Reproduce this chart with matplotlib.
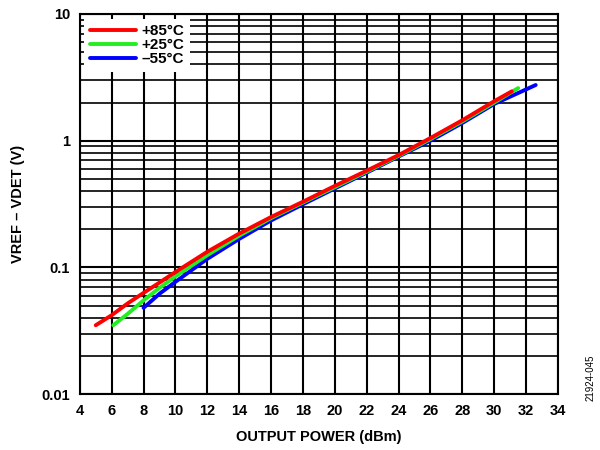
import matplotlib
matplotlib.use('Agg')
import matplotlib.pyplot as plt
from matplotlib.ticker import FixedLocator, LogLocator, NullFormatter

plt.rcParams['font.family'] = ['Liberation Sans', 'DejaVu Sans']
plt.rcParams['font.weight'] = 'bold'

# +85 C
x_85 = [5, 6, 7, 8, 9, 10, 12, 14, 16, 18, 20, 22, 24, 26, 28, 30, 31.1]
y_85 = [0.035, 0.042, 0.052, 0.063, 0.076, 0.092, 0.133, 0.185, 0.25, 0.33,
        0.44, 0.58, 0.77, 1.05, 1.45, 2.05, 2.45]
# +25 C
x_25 = [6.1, 7, 8, 9, 10, 12, 14, 16, 18, 20, 22, 24, 26, 28, 30, 31.5]
y_25 = [0.035, 0.043, 0.055, 0.069, 0.085, 0.125, 0.178, 0.245, 0.325,
        0.43, 0.57, 0.76, 1.03, 1.42, 2.0, 2.6]
# -55 C
x_m55 = [8, 9, 10, 12, 14, 16, 18, 20, 22, 24, 26, 28, 30, 32.6]
y_m55 = [0.048, 0.062, 0.077, 0.117, 0.168, 0.235, 0.315, 0.42, 0.56,
         0.75, 1.0, 1.38, 1.95, 2.75]

x_ticks = list(range(4, 35, 2))
y_ticks = [0.01, 0.1, 1, 10]
y_tick_labels = ['0.01', '0.1', '1', '10']

fig = plt.figure(figsize=(6, 4.5), dpi=100)
ax = fig.add_axes([0.133, 0.124, 0.797, 0.845])

ax.plot(x_85, y_85, color='#ff0000', lw=2.8, label='+85°C', solid_capstyle='round', zorder=5)
ax.plot(x_25, y_25, color='#22ee22', lw=2.8, label='+25°C', solid_capstyle='round', zorder=4)
ax.plot(x_m55, y_m55, color='#0000ff', lw=2.8, label='–55°C', solid_capstyle='round', zorder=3)

ax.set_yscale('log')
ax.set_xlim(4, 34)
ax.set_ylim(0.01, 10)
ax.xaxis.set_major_locator(FixedLocator(x_ticks))
ax.set_yticks(y_ticks)
ax.set_yticklabels(y_tick_labels)
ax.yaxis.set_minor_locator(LogLocator(base=10, subs=range(2, 10)))
ax.yaxis.set_minor_formatter(NullFormatter())

ax.grid(True, which='major', color='black', lw=1.5)
ax.grid(True, which='minor', axis='y', color='black', lw=1.2)
ax.tick_params(which='both', length=0, labelsize=10.5, pad=7)
for s in ax.spines.values():
    s.set_linewidth(1.5)

ax.set_xlabel('OUTPUT POWER (dBm)', fontsize=10.5, fontweight='bold', labelpad=9)
ax.set_ylabel('VREF – VDET (V)', fontsize=10.5, fontweight='bold', labelpad=12)

leg = ax.legend(loc='upper left', frameon=True, fancybox=False, edgecolor='white',
                fontsize=11, handlelength=3.0, labelspacing=0.02, borderpad=0.35,
                handletextpad=0.4, borderaxespad=0.3)
leg.get_frame().set_linewidth(0)
leg.get_frame().set_alpha(1)
for t in leg.get_texts():
    t.set_fontweight('bold')

fig.text(0.985, 0.16, '21924-045', rotation=90, fontsize=7, fontweight='normal',
         ha='center', va='center')

fig.savefig('out.png', dpi=100)
